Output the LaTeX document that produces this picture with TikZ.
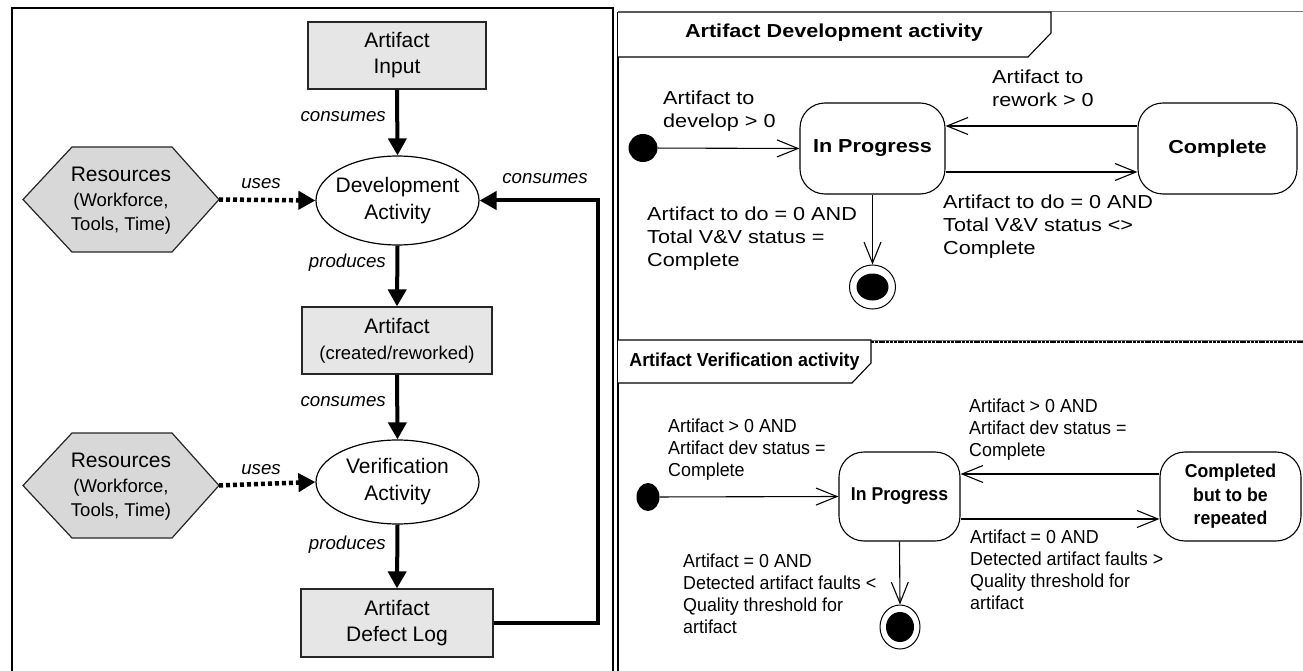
\documentclass[tikz,border=0pt]{standalone}
\usepackage{fontspec}
\setmainfont{Liberation Sans}
\newfontfamily\widesans[FakeStretch=1.15]{Liberation Sans}
\newfontfamily\condsans[FakeStretch=0.95]{Liberation Sans}
\usetikzlibrary{arrows.meta,shapes.geometric}
\definecolor{boxgray}{RGB}{230,230,230}
\definecolor{hexgray}{RGB}{216,216,216}
\definecolor{framegray}{RGB}{120,120,120}
\newcommand{\subline}{\fontsize{18.5}{24}\selectfont}

\begin{document}
\begin{tikzpicture}[x=1pt,y=-1pt,
  artbox/.style={draw=black!85, line width=1.2pt, fill=boxgray, inner sep=0, align=center,
    font=\fontsize{21}{26}\selectfont},
  activity/.style={ellipse, draw=black, line width=1.2pt, fill=white, inner sep=0},
  acttext/.style={align=center, inner sep=0, font=\fontsize{21}{27}\selectfont},
  hexagon/.style={draw=black!85, line width=1.2pt, fill=hexgray},
  restext/.style={align=center, inner sep=0, font=\fontsize{21}{24.5}\selectfont},
  flow/.style={line width=4pt, -{Triangle[length=17pt,width=18pt]}},
  usesflow/.style={line width=4.5pt, dash pattern=on 4pt off 3pt, -{Triangle[length=17pt,width=18pt]}},
  flowlabel/.style={inner sep=0, font=\fontsize{18.7}{22}\selectfont\itshape},
  state/.style={draw, rounded corners=25pt, line width=1.1pt, inner sep=0, align=center},
  devstate/.style={state, font=\widesans\fontsize{18.8}{24}\selectfont\bfseries},
  verstate/.style={state, font=\condsans\fontsize{18.6}{23.5}\selectfont\bfseries},
  trans/.style={line width=1.1pt, -{Straight Barb[length=21pt,width=17pt,line width=1.1pt]}},
  devguard/.style={anchor=north west, inner sep=0, align=left, font=\widesans\fontsize{18.8}{22.6}\selectfont},
  verguard/.style={anchor=north west, inner sep=0, align=left, font=\condsans\fontsize{18.8}{22}\selectfont},
  initdot/.style={ellipse, fill=black, inner sep=0},
  finalring/.style={ellipse, draw, line width=1pt, inner sep=0, fill=white},
  finaldot/.style={ellipse, fill=black, inner sep=0},
  tabframe/.style={line width=1.1pt, fill=white}
]
\useasboundingbox (0,0) rectangle (1303,671);

% ---------------- left panel: artifact flow ----------------
\draw[line width=1.3pt] (12,671) -- (12,8) -- (613,8) -- (613,671);

\node[artbox, minimum width=178pt, minimum height=67pt] (input) at (397,55.5) {Artifact\\Input};
\node[activity, minimum width=163pt, minimum height=89pt] (dev) at (397.5,200.5) {};
\node[acttext] (devtxt) at (dev) {Development\\Activity};
\node[artbox, minimum width=190pt, minimum height=67pt] (made) at (397,340.5)
  {Artifact\\{\subline (created/reworked)}};
\node[activity, minimum width=163pt, minimum height=84pt] (ver) at (397.5,482) {};
\node[acttext] (vertxt) at (ver) {Verification\\Activity};
\node[artbox, minimum width=192pt, minimum height=68pt] (log) at (397,623) {Artifact\\Defect Log};

% resources hexagons
\coordinate (res1) at (121,199.5);
\draw[hexagon] ([xshift=-98pt]res1) -- ++(49,-52.5) -- ++(100,0) -- ++(47,52.5)
  -- ++(-47,52.5) -- ++(-100,0) -- cycle;
\node[restext] (res1txt) at ([yshift=-1.5pt]res1) {Resources\\{\subline (Workforce,}\\{\subline Tools, Time)}};
\coordinate (res2) at (121,485.5);
\draw[hexagon] ([xshift=-98pt]res2) -- ++(49,-52.5) -- ++(100,0) -- ++(47,52.5)
  -- ++(-47,52.5) -- ++(-100,0) -- cycle;
\node[restext] (res2txt) at ([yshift=-1.5pt]res2) {Resources\\{\subline (Workforce,}\\{\subline Tools, Time)}};

% flows
\draw[flow] (input.south) -- (dev.north);
\draw[flow] (dev.south) -- (made.north);
\draw[flow] (made.south) -- (ver.north);
\draw[flow] (ver.south) -- (log.north);
\draw[usesflow] ([xshift=98pt]res1) -- (dev.west);
\draw[usesflow] ([xshift=98pt]res2) -- (ver.west);
\coordinate (loopcorner) at (598,623);
\draw[flow] (log.east) -- (loopcorner) |- (dev.east);

\node[flowlabel, anchor=east] (lc1) at (386,117) {consumes};
\node[flowlabel, anchor=east] (lp1) at (386,263) {produces};
\node[flowlabel, anchor=east] (lc2) at (386,402) {consumes};
\node[flowlabel, anchor=east] (lp2) at (386,545) {produces};
\node[flowlabel] (lu1) at (261,184) {uses};
\node[flowlabel] (lu2) at (261,470) {uses};
\node[flowlabel] (lc3) at (545,179) {consumes};

% ---------------- right panel: state machines ----------------
\draw[line width=1.4pt] (618,12) -- (618,671);
\draw[framegray, line width=1pt] (1051,12) -- (1303,12);
\draw[tabframe] (618,57) -- (1028,57) -- (1051,33) -- (1051,12) -- (618,12);
\node[inner sep=0, font=\widesans\fontsize{18.8}{24}\selectfont\bfseries] (devtitle) at (834,33)
  {Artifact Development activity};

% development states
\node[initdot, minimum width=29pt, minimum height=28pt] (dinit) at (643,148) {};
\node[devstate, minimum width=145pt, minimum height=91pt] (dprog) at (872.5,148.5) {In Progress};
\node[devstate, minimum width=159pt, minimum height=91pt] (dcomp) at (1217.5,148.5) {Complete};
\node[finalring, minimum width=46pt, minimum height=44pt] (dfin) at (872.5,287) {};
\node[finaldot, minimum width=32pt, minimum height=27pt] (dfincore) at (dfin) {};

\draw[trans] (dinit) -- (dprog.west);
\draw[trans] ([yshift=22.5pt]dcomp.west) -- ([yshift=22.5pt]dprog.east);
\draw[trans] ([yshift=-23.5pt]dprog.east) -- ([yshift=-23.5pt]dcomp.west);
\draw[trans] (dprog.south) -- (dfin.north);

\node[devguard] (g1) at (663,91) {Artifact to\\develop > 0};
\node[devguard] (g2) at (992,70) {Artifact to\\rework > 0};
\node[devguard] (g3) at (943,195) {Artifact to do = 0 AND\\Total V\&V status <>\\Complete};
\node[devguard] (g4) at (647,207) {Artifact to do = 0 AND\\Total V\&V status =\\Complete};

% separator between the two machines
\draw[framegray, line width=1pt] (618,340) -- (1303,340);
\draw[line width=2.4pt, dash pattern=on 3pt off 0.8pt] (871,342) -- (1303,342);
\draw[tabframe] (618,383) -- (852,383) -- (871,363) -- (871,340) -- (618,340);
\node[inner sep=0, font=\condsans\fontsize{18.8}{23}\selectfont\bfseries] (vertitle) at (744.5,362)
  {Artifact Verification activity};

% verification states
\node[initdot, minimum width=23pt, minimum height=28pt] (vinit) at (648,497) {};
\node[verstate, minimum width=121pt, minimum height=89pt] (vprog) at (899.5,496.5) {In Progress};
\node[verstate, minimum width=141pt, minimum height=89pt] (vcomp) at (1230.5,496.5)
  {Completed\\but to be\\repeated};
\node[finalring, minimum width=40pt, minimum height=44pt] (vfin) at (900,627) {};
\node[finaldot, minimum width=28pt, minimum height=30pt] (vfincore) at (vfin) {};

\draw[trans] (vinit) -- (vprog.west);
\draw[trans] ([yshift=22.5pt]vcomp.west) -- ([yshift=22.5pt]vprog.east);
\draw[trans] ([yshift=-22.5pt]vprog.east) -- ([yshift=-22.5pt]vcomp.west);
\draw[trans] (vprog.south) -- (vfin.north);

\node[verguard] (h1) at (668,419) {Artifact > 0 AND\\Artifact dev status =\\Complete};
\node[verguard] (h2) at (969,399) {Artifact > 0 AND\\Artifact dev status =\\Complete};
\node[verguard] (h3) at (970,530) {Artifact = 0 AND\\Detected artifact faults >\\Quality threshold for\\artifact};
\node[verguard] (h4) at (683,554) {Artifact = 0 AND\\Detected artifact faults <\\Quality threshold for\\artifact};
\end{tikzpicture}
\end{document}
